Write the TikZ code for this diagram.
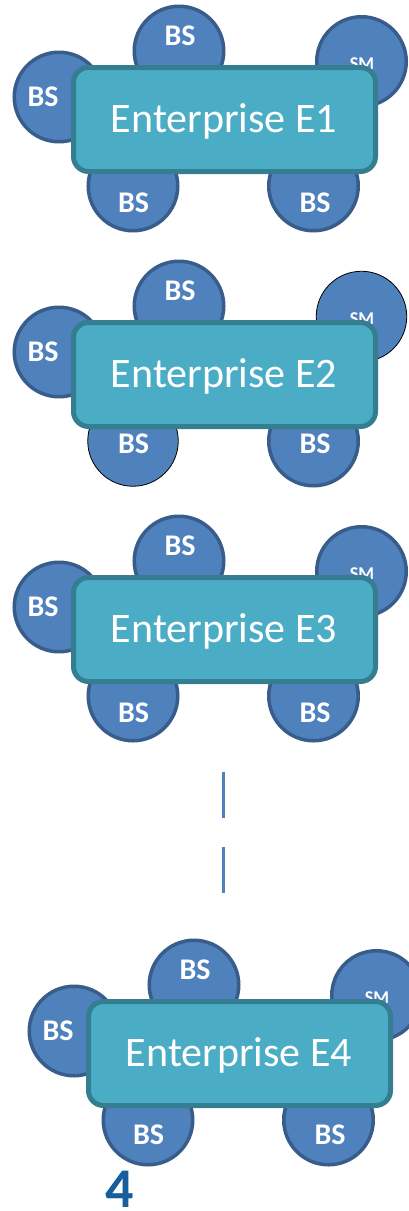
\documentclass[tikz,border=0pt]{standalone}
\usepackage{fontspec}
\setmainfont{Carlito}
\definecolor{bsfill}{HTML}{4F81BD}
\definecolor{bsline}{HTML}{385D8A}
\definecolor{entfill}{HTML}{4BACC6}
\definecolor{entline}{HTML}{357D91}
\definecolor{numblue}{RGB}{23,94,155}
\tikzset{
  station/.style={circle, fill=bsfill, draw=bsline, line width=3.5pt,
    minimum size=89.5pt, inner sep=0pt},
  thinrim/.style={draw=black, line width=0.8pt, minimum size=90.5pt},
  enterprise/.style={rectangle, rounded corners=15pt, fill=entfill, draw=entline,
    line width=5pt, minimum width=302pt, minimum height=104pt, inner sep=0pt},
  bslabel/.style={text=white, font=\bfseries\fontsize{30}{32}\selectfont,
    anchor=base, inner sep=0pt},
  smlabel/.style={text=white, font=\bfseries\fontsize{18}{20}\selectfont,
    anchor=base, inner sep=0pt},
  entlabel/.style={text=white, font=\fontsize{42}{48}\selectfont,
    anchor=base, inner sep=0pt},
  gap/.style={draw=bsfill, line width=3pt},
}
% #1 name prefix, #2 offset, #3 caption, #4 extra style of SM and lower-left circle,
% #5 baseline of the lower labels
\newcommand\entgroup[5]{%
  \begin{scope}[shift={#2}]
    \node[station] (#1t) at (179,51) {};
    \node[station] (#1l) at (59,97) {};
    \node[station,#4] (#1s) at (361.5,61.5) {};
    \node[station,#4] (#1bl) at (133,186) {};
    \node[station] (#1br) at (313.5,186) {};
    \node[bslabel] (#1tt) at (180,45) {BS};
    \node[bslabel] (#1lt) at (43,106) {BS};
    \node[smlabel] (#1st) at (362,69) {SM};
    \node[bslabel] (#1blt) at (133.5,#5) {BS};
    \node[bslabel] (#1brt) at (315,#5) {BS};
    \node[enterprise] (#1box) at (224.5,119.5) {};
    \node[entlabel] (#1cap) at (224,132) {Enterprise #3};
  \end{scope}}
\begin{document}
\begin{tikzpicture}[x=1pt,y=-1pt]
  \useasboundingbox (0,0) rectangle (409,1211);
  \entgroup{a}{(0,0)}{E1}{}{212}
  \entgroup{b}{(0,255)}{E2}{thinrim}{198}
  \entgroup{c}{(0,510)}{E3}{}{212}
  \entgroup{d}{(15,934)}{E4}{}{210}
  % continuation marks between E3 and E4
  \coordinate (d1a) at (223,772);
  \coordinate (d1b) at (223,818);
  \coordinate (d2a) at (223,847);
  \coordinate (d2b) at (223,893);
  \draw[gap] (d1a) -- (d1b);
  \draw[gap] (d2a) -- (d2b);
  \node[text=numblue, font=\bfseries\fontsize{56}{56}\selectfont, anchor=base,
    inner sep=0pt] (num) at (120,1207) {4};
\end{tikzpicture}
\end{document}
